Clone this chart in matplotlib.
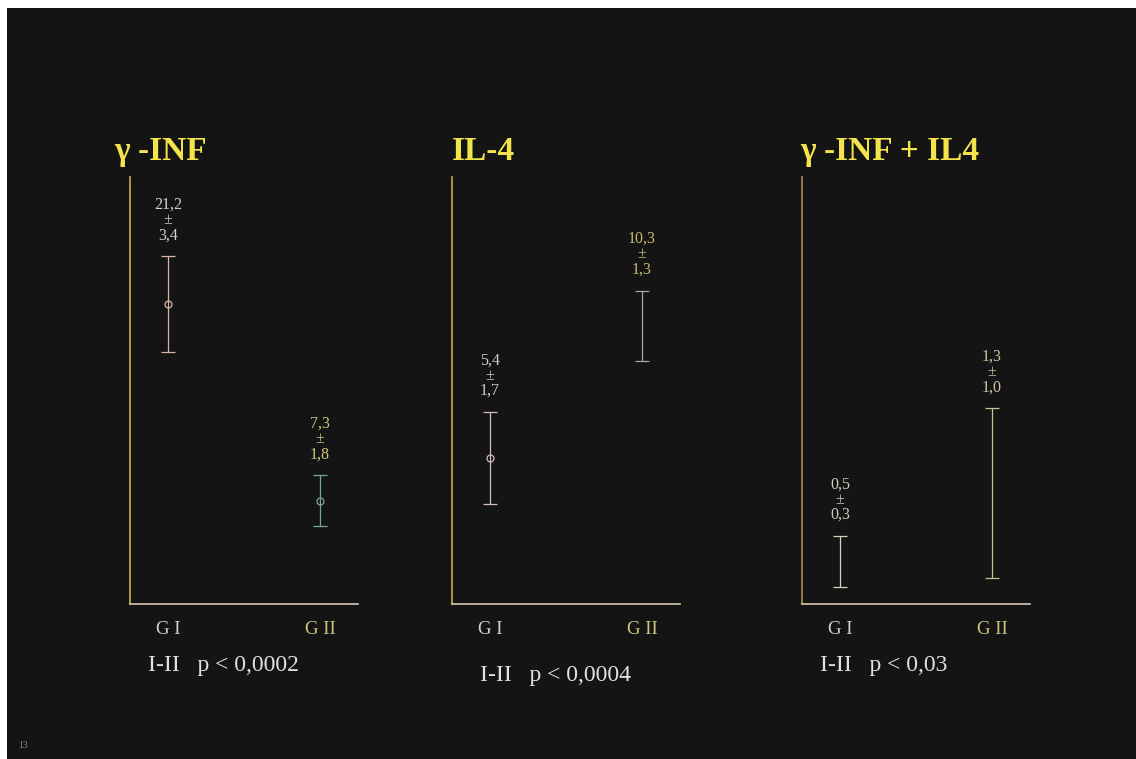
import numpy as np
import matplotlib
matplotlib.use('Agg')
import matplotlib.pyplot as plt

plt.rcParams['font.family'] = ['Liberation Serif', 'DejaVu Serif']

# data
groups = ['G I', 'G II']
titles = ['γ -INF', 'IL-4', 'γ -INF + IL4']
means = [[21.2, 7.3], [5.4, 10.3], [0.5, 1.3]]
sds = [[3.4, 1.8], [1.7, 1.3], [0.3, 1.0]]
mean_txt = [['21,2', '7,3'], ['5,4', '10,3'], ['0,5', '1,3']]
sd_txt = [['3,4', '1,8'], ['1,7', '1,3'], ['0,3', '1,0']]
pvals = ['I-II   p < 0,0002', 'I-II   p < 0,0004', 'I-II   p < 0,03']
ymax = [30.2, 15.8, 5.02]

# styles
W, H = 1136, 759
bg = '#141414'
title_col = '#f2e44a'
bar_cols = [['#d8b4aa', '#78a894'], ['#d4bcbc', '#a8a8a0'], ['#d8d0c0', '#c8c098']]
lab_cols = [['#d4d0cc', '#cfc67a'], ['#d4ccc4', '#c8b870'], ['#d4ccc0', '#cfc6a0']]
marker_on = [[True, True], [True, False], [False, False]]
yspine = ['#c8b050', '#c8a850', '#b08858']
axes_left = [130, 452, 802]
title_x = [114, 452, 800]
p_x = [148, 480, 820]
p_y = [666, 676, 665]

fig = plt.figure(figsize=(W / 100, H / 100), dpi=100)
fig.patch.set_facecolor('white')
bgax = fig.add_axes([7 / W, 0, 1 - 7 / W, (H - 8) / H])
bgax.set_facecolor(bg)
bgax.set_xticks([])
bgax.set_yticks([])
for s in bgax.spines.values():
    s.set_visible(False)

for i in range(3):
    left = axes_left[i]
    ax = fig.add_axes([left / W, (H - 604) / H, 228 / W, 427 / H])
    ax.patch.set_alpha(0)
    ax.set_xlim(-0.25, 1.25)
    ax.set_ylim(0, ymax[i])
    for s in ['top', 'right']:
        ax.spines[s].set_visible(False)
    ax.spines['left'].set_color(yspine[i])
    ax.spines['bottom'].set_color('#d4c8b0')
    ax.spines['left'].set_linewidth(1.2)
    ax.spines['bottom'].set_linewidth(1.2)
    ax.set_yticks([])
    ax.set_xticks([0, 1])
    ax.set_xticklabels(groups, fontsize=13.5)
    ax.tick_params(axis='x', length=0, pad=12)
    for t, c in zip(ax.get_xticklabels(), ['#d8d0c8', '#cfc680']):
        t.set_color(c)

    for j in range(2):
        m, sd = means[i][j], sds[i][j]
        ax.errorbar(j, m, yerr=sd, fmt='o' if marker_on[i][j] else 'none',
                    color=bar_cols[i][j], mfc='none', ms=5, mew=0.9,
                    elinewidth=0.9, capsize=5, capthick=0.9)
        ax.annotate(mean_txt[i][j] + '\n±\n' + sd_txt[i][j], (j, m + sd),
                    xytext=(0, 13), textcoords='offset pixels',
                    ha='center', va='bottom', fontsize=11.5,
                    linespacing=0.95, color=lab_cols[i][j],
                    annotation_clip=False)

    fig.text(title_x[i] / W, 1 - 160 / H, titles[i], fontsize=24,
             fontweight='bold', color=title_col, ha='left', va='baseline')
    fig.text(p_x[i] / W, 1 - p_y[i] / H, pvals[i], fontsize=17,
             color='#e4e0dc', ha='left', va='center')

fig.text(18 / W, 1 - 746 / H, '13', fontsize=7, color='#888888',
         ha='left', va='center')

plt.savefig('out.png', dpi=100, facecolor=fig.get_facecolor())
